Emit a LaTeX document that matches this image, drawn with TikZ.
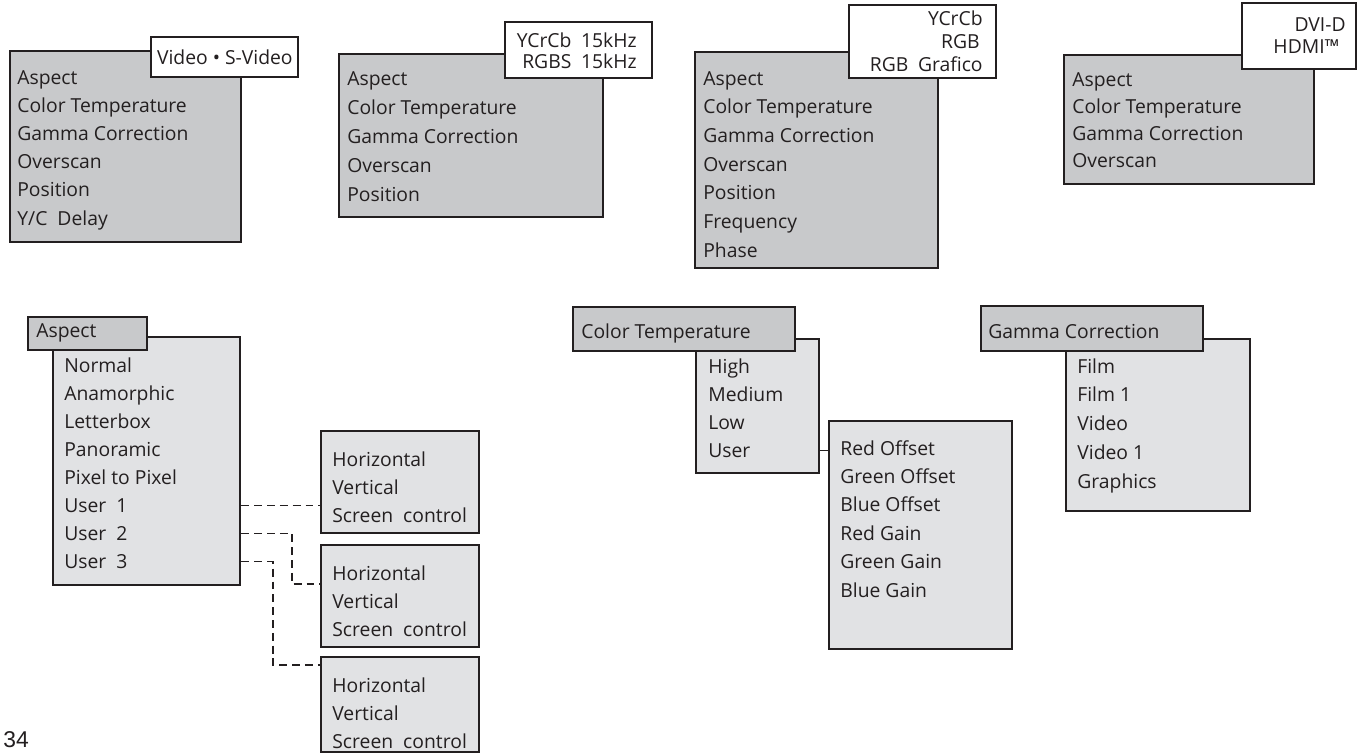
\documentclass[tikz,border=0pt]{standalone}
\usepackage{fontspec}
\setmainfont{Open Sans}
\newfontfamily\pagefont{Liberation Sans}
\usetikzlibrary{fit}
\definecolor{menugray}{HTML}{C8C9CB}
\definecolor{listgray}{HTML}{E1E2E4}
\definecolor{boxline}{HTML}{231F20}

\begin{document}
\begin{tikzpicture}[x=0.02cm, y=-0.02cm,
        menubox/.style={draw=boxline, line width=1.6pt, fill=menugray, inner sep=0pt},
        listbox/.style={draw=boxline, line width=1.6pt, fill=listgray, inner sep=0pt},
        tagbox/.style={draw=boxline, line width=0.8pt, fill=white, inner sep=0pt},
        item/.style={anchor=base west, inner sep=0pt, text=boxline,
            font=\fontsize{11}{13}\selectfont},
        tagtext/.style={item, anchor=base east},
        link/.style={draw=boxline, line width=0.6pt},
        linkdash/.style={link, dash pattern=on 4.5pt off 2.8pt}]

        \useasboundingbox (0,0) rectangle (1364,755);

        % Video / S-Video menu
        \node[menubox, fit={(10,51) (241,242)}] (vid) {};
        \node[tagbox, fit={(151,37) (298,77)}] (vidtag) {};
        \node[tagtext] (vidtag-0) at (293,64) {Video • S-Video};
        \foreach \t [count=\i from 0] in {Aspect, Color Temperature, Gamma Correction,
                Overscan, Position, Y/C\ \ Delay}
            \node[item] (vid-\i) at ({17},{84+28.2*\i}) {\t};

        % YCrCb / RGBS 15kHz menu
        \node[menubox, fit={(339,54) (603,217)}] (ycc) {};
        \node[tagbox, fit={(505,22) (652,78)}] (ycctag) {};
        \node[tagtext] (ycctag-0) at (637,47) {YCrCb\enspace 15kHz};
        \node[tagtext] (ycctag-1) at (637,68) {RGBS\enspace 15kHz};
        \foreach \t [count=\i from 0] in {Aspect, Color Temperature, Gamma Correction,
                Overscan, Position}
            \node[item] (ycc-\i) at ({347},{85+29.1*\i}) {\t};

        % YCrCb / RGB / RGB Grafico menu
        \node[menubox, fit={(695,52) (938,268)}] (rgb) {};
        \node[tagbox, fit={(849,5) (996,78)}] (rgbtag) {};
        \node[tagtext] (rgbtag-0) at (983,25) {YCrCb};
        \node[tagtext] (rgbtag-1) at (980,48) {RGB};
        \node[tagtext] (rgbtag-2) at (983,71) {RGB\enspace Grafico};
        \foreach \t [count=\i from 0] in {Aspect, Color Temperature, Gamma Correction,
                Overscan, Position, Frequency, Phase}
            \node[item] (rgb-\i) at ({703},{85+28.7*\i}) {\t};

        % DVI-D / HDMI menu
        \node[menubox, fit={(1064,55) (1314,184)}] (dvi) {};
        \node[tagbox, fit={(1242,3) (1356,69)}] (dvitag) {};
        \node[tagtext] (dvitag-0) at (1346,31) {DVI-D};
        \node[tagtext] (dvitag-1) at (1340,53) {HDMI™};
        \foreach \t [count=\i from 0] in {Aspect, Color Temperature, Gamma Correction,
                Overscan}
            \node[item] (dvi-\i) at ({1072},{86+27.3*\i}) {\t};

        % Aspect submenu
        \node[listbox, fit={(53,337) (240,585)}] (asplist) {};
        \node[menubox, fit={(28,317) (147,350)}] (asphead) {};
        \node[item] (asphead-0) at (36,337) {Aspect};
        \foreach \t [count=\i from 0] in {Normal, Anamorphic, Letterbox, Panoramic,
                Pixel to Pixel, User\ \ 1, User\ \ 2, User\ \ 3}
            \node[item] (asp-\i) at ({64},{372+28.1*\i}) {\t};

        % User 1..3 settings
        \node[listbox, fit={(321,431) (479,533)}] (hvA) {};
        \node[listbox, fit={(321,545) (479,647)}] (hvB) {};
        \node[listbox, fit={(321,657) (479,752)}] (hvC) {};
        \foreach \b/\y in {A/466, B/580, C/692}
            \foreach \t [count=\i from 0] in {Horizontal, Vertical, Screen\ \ control}
                \node[item] (hv\b-\i) at ({332},{\y+28*\i}) {\t};

        % dashed links
        \coordinate (bendB) at (292,584);
        \coordinate (bendC) at (273,665);
        \draw[linkdash] (asp-5 -| asplist.east) -- (asp-5 -| hvA.west);
        \draw[linkdash] (asp-6 -| asplist.east) -| (bendB) -- (bendB -| hvB.west);
        \draw[linkdash] (asp-7 -| asplist.east) -| (bendC) -- (bendC -| hvC.west);

        % Color Temperature submenu
        \node[listbox, fit={(696,339) (819,473)}] (ctlist) {};
        \node[menubox, fit={(573,307) (795,351)}] (cthead) {};
        \node[item] (cthead-0) at (581,338) {Color Temperature};
        \foreach \t [count=\i from 0] in {High, Medium, Low, User}
            \node[item] (ct-\i) at ({708},{373+28*\i}) {\t};

        % User offsets and gains
        \node[listbox, fit={(829,421) (1012,649)}] (offlist) {};
        \foreach \t [count=\i from 0] in {Red Offset, Green Offset, Blue Offset,
                Red Gain, Green Gain, Blue Gain}
            \node[item] (off-\i) at ({840},{455+28.4*\i}) {\t};
        \draw[link] (ct-3 -| ctlist.east) -- (ct-3 -| offlist.west);

        % Gamma Correction submenu
        \node[listbox, fit={(1066,339) (1250,511)}] (gclist) {};
        \node[menubox, fit={(981,306) (1203,351)}] (gchead) {};
        \node[item] (gchead-0) at (988,338) {Gamma Correction};
        \foreach \t [count=\i from 0] in {Film, Film 1, Video, Video 1, Graphics}
            \node[item] (gc-\i) at ({1077},{373+28.75*\i}) {\t};

        % page number
        \node[anchor=north west, inner sep=0pt, text=boxline,
            font=\pagefont\fontsize{13}{15}\selectfont] (pagenum) at (3,731) {34};

    \end{tikzpicture}
\end{document}
